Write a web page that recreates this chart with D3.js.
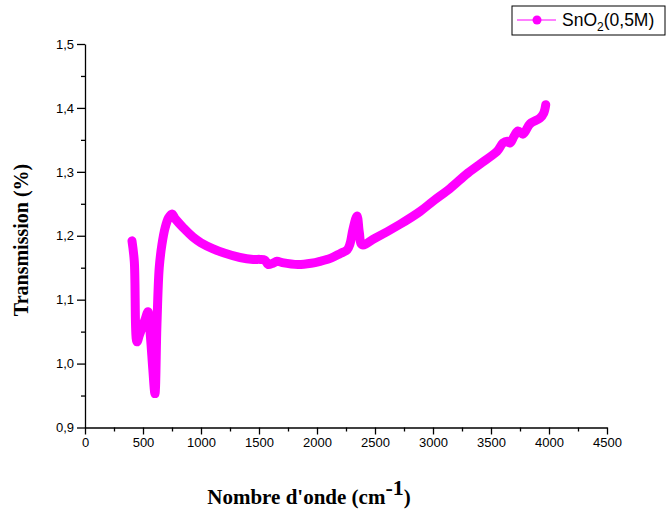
<!DOCTYPE html>
<html>
<head>
<meta charset="utf-8">
<script src="https://cdn.jsdelivr.net/npm/d3@7"></script>
<style>
  body { margin: 0; background: #fff; }
  .tick text { font-family: "Liberation Sans", Arial, sans-serif; font-size: 13px; fill: #000; }
  .axis path, .axis line { stroke: #000; stroke-width: 1.3; }
</style>
</head>
<body>
<div id="chart"></div>
<script>

var width = 666;
var height = 510;
var margin = {top: 44, right: 59, bottom: 84, left: 85};

// data
var wavenumber = [405, 425, 448, 470, 500, 520, 543, 565, 585, 603, 620, 640, 663, 690, 720, 750, 780, 850, 930, 1000, 1100, 1200, 1336, 1450, 1509, 1550, 1578, 1620, 1655, 1700, 1836, 1950, 2026, 2120, 2198, 2260, 2284, 2310, 2345, 2365, 2388, 2500, 2716, 2888, 3000, 3147, 3300, 3450, 3552, 3603, 3640, 3664, 3700, 3733, 3776, 3836, 3922, 3955, 3972];
var transmission = [1.192, 1.16, 1.034, 1.045, 1.06, 1.07, 1.081, 1.04, 0.99, 0.953, 1.06, 1.15, 1.186, 1.212, 1.228, 1.234, 1.226, 1.212, 1.198, 1.189, 1.18, 1.173, 1.166, 1.163, 1.163, 1.162, 1.155, 1.157, 1.160, 1.158, 1.155, 1.157, 1.16, 1.165, 1.172, 1.178, 1.187, 1.21, 1.231, 1.205, 1.186, 1.196, 1.218, 1.238, 1.254, 1.274, 1.298, 1.318, 1.332, 1.345, 1.348, 1.345, 1.356, 1.364, 1.359, 1.375, 1.384, 1.392, 1.405];

var xTicks = [0, 500, 1000, 1500, 2000, 2500, 3000, 3500, 4000, 4500];
var yTicks = [0.9, 1.0, 1.1, 1.2, 1.3, 1.4, 1.5];
var seriesName = "SnO";

var lineColor = "#ff00ff";

var svg = d3.select("#chart")
  .append("svg")
  .attr("width", width)
  .attr("height", height);

var xScale = d3.scaleLinear()
  .domain([0, 4500])
  .range([margin.left, width - margin.right]);

var yScale = d3.scaleLinear()
  .domain([0.9, 1.5])
  .range([height - margin.bottom + 1.5, margin.top]);

var fmt = function(d) { return d3.format(".1f")(d).replace(".", ","); };

// minor ticks first
svg.append("g")
  .attr("class", "axis")
  .attr("transform", "translate(0," + yScale(0.9) + ")")
  .call(d3.axisBottom(xScale).tickValues(d3.range(250, 4500, 500)).tickSize(4).tickFormat(""))
  .select(".domain").remove();

svg.append("g")
  .attr("class", "axis")
  .attr("transform", "translate(" + xScale(0) + ",0)")
  .call(d3.axisLeft(yScale).tickValues([0.95, 1.05, 1.15, 1.25, 1.35, 1.45]).tickSize(4).tickFormat(""))
  .select(".domain").remove();

svg.append("g")
  .attr("class", "axis")
  .attr("transform", "translate(0," + yScale(0.9) + ")")
  .call(d3.axisBottom(xScale).tickValues(xTicks).tickSize(7).tickSizeOuter(0).tickPadding(3).tickFormat(d3.format("d")));

svg.append("g")
  .attr("class", "axis")
  .attr("transform", "translate(" + xScale(0) + ",0)")
  .call(d3.axisLeft(yScale).tickValues(yTicks).tickSize(8).tickSizeOuter(0).tickPadding(3).tickFormat(fmt));

// data line
var data = wavenumber.map(function(w, i) { return {x: w, y: transmission[i]}; });

var line = d3.line()
  .x(function(d) { return xScale(d.x); })
  .y(function(d) { return yScale(d.y); })
  .curve(d3.curveCatmullRom);

svg.append("path")
  .datum(data)
  .attr("d", line)
  .attr("fill", "none")
  .attr("stroke", lineColor)
  .attr("stroke-width", 9)
  .attr("stroke-linejoin", "round")
  .attr("stroke-linecap", "round");

// axis titles
svg.append("text")
  .attr("x", 309)
  .attr("y", 504)
  .attr("text-anchor", "middle")
  .style("font-family", "'Liberation Serif', 'Times New Roman', serif")
  .style("font-weight", "bold")
  .style("font-size", "21px")
  .html("Nombre d'onde (cm<tspan dy='-9' font-size='22px'>-1</tspan><tspan dy='9'>)</tspan>");

svg.append("text")
  .attr("transform", "translate(28,240) rotate(-90)")
  .attr("text-anchor", "middle")
  .style("font-family", "'Liberation Serif', 'Times New Roman', serif")
  .style("font-weight", "bold")
  .style("font-size", "20px")
  .text("Transmission (%)");

// legend
var legend = svg.append("g");
legend.append("rect")
  .attr("x", 512).attr("y", 6)
  .attr("width", 153).attr("height", 29)
  .attr("fill", "#fff").attr("stroke", "#000").attr("stroke-width", 1);
legend.append("line")
  .attr("x1", 517).attr("x2", 556).attr("y1", 20).attr("y2", 20)
  .attr("stroke", lineColor).attr("stroke-width", 1.2);
legend.append("circle")
  .attr("cx", 537).attr("cy", 20).attr("r", 4.5)
  .attr("fill", lineColor);
legend.append("text")
  .attr("x", 562).attr("y", 26)
  .style("font-family", "'Liberation Sans', Arial, sans-serif")
  .style("font-size", "17.5px")
  .html(seriesName + "<tspan dy='5' font-size='12px'>2</tspan><tspan dy='-5'>(0,5M)</tspan>");

</script>
</body>
</html>
